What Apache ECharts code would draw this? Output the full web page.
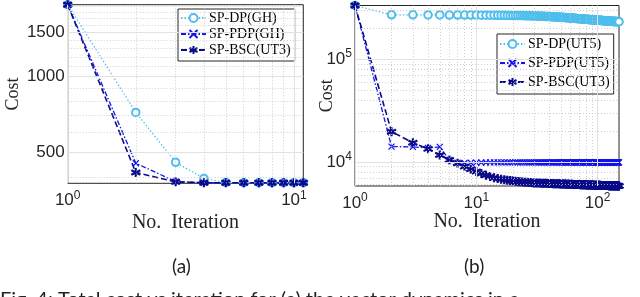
<!DOCTYPE html>
<html><head><meta charset="utf-8">
<script src="https://cdn.jsdelivr.net/npm/echarts@6/dist/echarts.min.js"></script>
<style>html,body{margin:0;padding:0;background:#fff}#c{width:640px;height:297px}</style>
</head><body><div id="c"></div>
<script>
// ---------- panel (a) ----------
const iterA = [1, 2, 3, 4, 5, 6, 7, 8, 9, 10, 11];
const costDP_A  = [1932, 721, 457, 394, 380, 379, 379, 379, 379, 379, 379];
const costPDP_A = [1932, 453, 383, 379, 379, 379, 379, 379, 379, 379, 379];
const costBSC_A = [1932, 416, 382, 379, 379, 379, 379, 379, 379, 379, 379];
const yTicksA = [500, 1000, 1500];
const yMinorA = [400, 600, 700, 800, 900, 1100, 1200, 1300, 1400, 1600, 1700, 1800, 1900];
const xTicksA = [1, 10];
const xMinorA = [2, 3, 4, 5, 6, 7, 8, 9];

// ---------- panel (b) ----------
const costDP_B = [
 333000,270000,270000,269500,269500,269000,269000,268800,268600,268400,
 268200,268000,267800,267600,267400,267200,267000,266800,266600,266400,
 266200,266000,265700,265400,265100,264800,264500,264200,263900,263600,
 263200,262800,262400,262000,261600,261200,260800,260400,260000,259600,
 259200,258800,258400,258000,257600,257200,256800,256400,256000,255600,
 255200,254800,254400,254000,253600,253200,252800,252400,252000,251600,
 251200,250800,250400,250000,249600,249200,248800,248400,248000,247700,
 247400,247100,246800,246500,246200,245900,245600,245300,245000,244700,
 244400,244100,243800,243500,243200,242900,242600,242300,242000,241700,
 241400,241200,241000,240800,240600,240400,240200,240000,239800,239600,
 239400,239200,239000,238800,238600,238400,238200,238000,237800,237600,
 237400,237200,237000,236800,236600,236400,236200,236000,235800,235600,
 235400,235200,235000,234800,234600,234400,234200,234000,233800,233600,
 233400,233300,233200,233100,233000,232900,232800,232700,232600,232500,
 232400,232300,232200,232100,232000,231900,231800,231700,231600,231500];
const costPDP_B = [
 333000,14100,14000,13700,14000,10450,9850,9750,9800,9850,
 9880,9890,9900,9900,9900,9900,9900,9900,9900,9900,
 9900,9900,9900,9900,9900,9900,9900,9900,9900,9900,
 9900,9900,9900,9900,9900,9900,9900,9900,9900,9900,
 9900,9900,9900,9900,9900,9900,9900,9900,9900,9900,
 9900,9900,9900,9900,9900,9900,9900,9900,9900,9900,
 9900,9900,9900,9900,9900,9900,9900,9900,9900,9900,
 9900,9900,9900,9900,9900,9900,9900,9900,9900,9900,
 9900,9900,9900,9900,9900,9900,9900,9900,9900,9900,
 9900,9900,9900,9900,9900,9900,9900,9900,9900,9900,
 9900,9900,9900,9900,9900,9900,9900,9900,9900,9900,
 9900,9900,9900,9900,9900,9900,9900,9900,9900,9900,
 9900,9900,9900,9900,9900,9900,9900,9900,9900,9900,
 9900,9900,9900,9900,9900,9900,9900,9900,9900,9900,
 9900,9900,9900,9900,9900,9900,9900,9900,9900,9900];
const costBSC_B = [
 333000,19700,15400,13400,11700,10450,9700,9000,8490,8050,
 7700,7420,7200,7030,6900,6800,6720,6650,6590,6540,
 6490,6450,6410,6380,6350,6330,6310,6290,6270,6250,
 6240,6232,6224,6216,6208,6200,6192,6184,6176,6168,
 6160,6154,6148,6142,6136,6130,6124,6118,6112,6106,
 6100,6095,6090,6085,6080,6075,6070,6066,6062,6058,
 6054,6050,6046,6042,6038,6034,6030,6026,6022,6018,
 6014,6010,6006,6002,5998,5994,5990,5987,5984,5981,
 5978,5975,5972,5969,5966,5963,5960,5957,5954,5951,
 5948,5945,5942,5939,5936,5933,5930,5928,5926,5924,
 5922,5920,5918,5916,5914,5912,5910,5908,5906,5904,
 5902,5900,5898,5896,5894,5892,5890,5888,5886,5884,
 5882,5880,5878,5876,5874,5872,5870,5868,5866,5864,
 5863,5862,5861,5860,5859,5858,5857,5856,5855,5854,
 5853,5852,5851,5850,5849,5848,5847,5846,5845,5844];
const yTicksB = [10000, 100000];
const yMinorB = [6000, 7000, 8000, 9000, 20000, 30000, 40000, 50000, 60000, 70000, 80000, 90000, 200000, 300000];
const xTicksB = [1, 10, 100];
const xMinorB = [2, 3, 4, 5, 6, 7, 8, 9, 20, 30, 40, 50, 60, 70, 80, 90];

const namesA = ['SP-DP(GH)', 'SP-PDP(GH)', 'SP-BSC(UT3)'];
const namesB = ['SP-DP(UT5)', 'SP-PDP(UT5)', 'SP-BSC(UT3)'];

// ---------- styling ----------
const INK = '#262626';
const C_DP = '#4DBEEE', C_PDP = '#1414F0', C_BSC = '#0B0B8A';
const SYM_X = 'path://M0,0L10,10M10,0L0,10';
const SYM_STAR = 'path://M5,0L5,10M0.67,2.5L9.33,7.5M0.67,7.5L9.33,2.5';
const serif = 'Liberation Serif';
const sans = 'Liberation Sans';

const pow10Label = v => {
  const e = Math.round(Math.log10(v));
  return '{b|10}{s|' + e + '}';
};
const supRich = {
  b: {fontSize: 17, fontFamily: sans, color: INK},
  s: {fontSize: 12, fontFamily: sans, color: INK, padding: [0, 0, 10, 0]}
};
const majorLine = {color: '#e2e2e2', type: 'solid', width: 1};
const minorLine = {color: '#c2c2c2', type: [1, 2], width: 0.8};

function gridSeries(idx, xMaj, xMin, yMaj, yMin, yPow) {
  const data = [];
  xMin.forEach(v => data.push({xAxis: v, lineStyle: minorLine}));
  yMin.forEach(v => data.push({yAxis: v, lineStyle: minorLine}));
  xMaj.forEach(v => data.push({xAxis: v, lineStyle: majorLine,
    label: {show: true, position: 'start', distance: 6, formatter: pow10Label(v), rich: supRich}}));
  yMaj.forEach(v => data.push({yAxis: v, lineStyle: majorLine,
    label: {show: true, position: 'start', distance: 3,
      formatter: yPow ? pow10Label(v) : String(v), rich: supRich,
      fontSize: 17, fontFamily: sans, color: INK}}));
  return {
    type: 'line', xAxisIndex: idx, yAxisIndex: idx, data: [], z: 1, silent: true,
    markLine: {silent: true, symbol: 'none', animation: false, label: {show: false},
      emphasis: {disabled: true}, data: data}
  };
}

function dataSeries(idx, name, ys, kind) {
  const pts = ys.map((v, i) => [i + 1, v]);
  const base = {type: 'line', name: name, xAxisIndex: idx, yAxisIndex: idx, data: pts,
    clip: false, z: 3, animation: false, showAllSymbol: true};
  if (kind === 'dp') return Object.assign(base, {
    color: C_DP, symbol: 'emptyCircle', symbolSize: 7.5,
    itemStyle: {color: C_DP, borderColor: C_DP, borderWidth: 1.5},
    lineStyle: {color: C_DP, width: 1.2, type: [1.5, 2]}});
  if (kind === 'pdp') return Object.assign(base, {
    color: C_PDP, symbol: SYM_X, symbolSize: 6,
    itemStyle: {color: C_PDP, borderColor: C_PDP, borderWidth: 1.3},
    lineStyle: {color: C_PDP, width: 1.3, type: [5, 2, 1.5, 2]}});
  return Object.assign(base, {
    color: C_BSC, symbol: SYM_STAR, symbolSize: 9,
    itemStyle: {color: C_BSC, borderColor: C_BSC, borderWidth: 2.2},
    lineStyle: {color: C_BSC, width: 1.6, type: [6, 3]}});
}

const axisBase = {type: 'log', logBase: 10, axisLine: {show: false}, axisTick: {show: false},
  axisLabel: {show: false}, splitLine: {show: false}, nameLocation: 'middle'};

const chart = echarts.init(document.getElementById('c'), null, {renderer: 'canvas'});
chart.setOption({
  animation: false,
  backgroundColor: '#fff',
  grid: [
    {left: 67.7, top: 4.7, width: 235.6, height: 178.6, show: true, borderColor: INK, borderWidth: 1, backgroundColor: '#fff'},
    {left: 355, top: 5.5, width: 264, height: 180.5, show: true, borderColor: INK, borderWidth: 1, backgroundColor: '#fff'}
  ],
  xAxis: [
    Object.assign({}, axisBase, {gridIndex: 0, min: 1, max: 11, name: 'No.  Iteration', nameGap: 29,
      nameTextStyle: {fontFamily: serif, fontSize: 20, color: INK}}),
    Object.assign({}, axisBase, {gridIndex: 1, min: 1, max: 150, name: 'No.  Iteration', nameGap: 26,
      nameTextStyle: {fontFamily: serif, fontSize: 20, color: INK}})
  ],
  yAxis: [
    Object.assign({}, axisBase, {gridIndex: 0, min: 377, max: 1932, name: 'Cost', nameGap: 45,
      nameTextStyle: {fontFamily: serif, fontSize: 18, color: INK}}),
    Object.assign({}, axisBase, {gridIndex: 1, min: 5830, max: 333000, name: 'Cost', nameGap: 19,
      nameTextStyle: {fontFamily: serif, fontSize: 18, color: INK}})
  ],
  legend: [
    {data: namesA, orient: 'vertical', left: 178, top: 9, itemGap: 2, itemWidth: 25, itemHeight: 10,
      padding: [2, 4, 4, 2], borderColor: INK, borderWidth: 1, backgroundColor: '#fff', selectedMode: false,
      textStyle: {fontFamily: serif, fontSize: 14, lineHeight: 14, color: '#000', padding: [0, 0, 0, -2]}},
    {data: namesB, orient: 'vertical', left: 497, top: 34, itemGap: 5, itemWidth: 25, itemHeight: 10,
      padding: [3, 4, 5, 2], borderColor: INK, borderWidth: 1, backgroundColor: '#fff', selectedMode: false,
      textStyle: {fontFamily: serif, fontSize: 14, lineHeight: 14, color: '#000', padding: [0, 0, 0, -2]}}
  ],
  series: [
    gridSeries(0, xTicksA, xMinorA, yTicksA, yMinorA, false),
    gridSeries(1, xTicksB, xMinorB, yTicksB, yMinorB, true),
    dataSeries(0, namesA[0], costDP_A, 'dp'),
    dataSeries(0, namesA[1], costPDP_A, 'pdp'),
    dataSeries(0, namesA[2], costBSC_A, 'bsc'),
    dataSeries(1, namesB[0], costDP_B, 'dp'),
    dataSeries(1, namesB[1], costPDP_B, 'pdp'),
    dataSeries(1, namesB[2], costBSC_B, 'bsc')
  ],
  graphic: [
    {type: 'text', left: 172, top: 257, style: {text: '(a)', font: '19px Lato', fill: '#222'}},
    {type: 'text', left: 464, top: 257, style: {text: '(b)', font: '19px Lato', fill: '#222'}},
    {type: 'text', left: 0, top: 290, style: {text: 'Fig. 4: Total cost vs iteration for (a) the vector dynamics in a', font: '20px Lato', fill: '#222'}}
  ]
});
</script></body></html>
